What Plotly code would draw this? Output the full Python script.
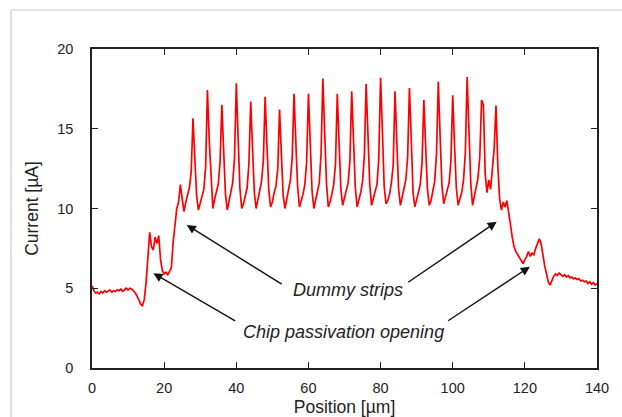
import numpy as np
import plotly.graph_objects as go

# ---------------- data ----------------
# sample positions: uniform 0.5 um grid from 0 to 140 um
X_START, X_STOP, X_STEP = 0.0, 140.0, 0.5

# 0 .. 12.5 um : flat baseline left of the chip
baseline_left = [5.15, 4.85, 4.70, 4.75, 4.65, 4.80, 4.70, 4.85, 4.75, 4.80,
                 4.90, 4.75, 4.85, 4.80, 4.90, 4.85, 4.95, 4.80, 4.90, 5.00,
                 4.90, 5.00, 4.95, 4.85, 4.70, 4.50]

# 13 .. 27.5 um : left chip passivation opening
passivation_left = [4.25, 4.00, 3.90, 4.30, 5.40, 7.00, 8.50, 7.60, 7.40, 8.20,
                    7.80, 8.30, 6.80, 6.10, 5.90, 6.00, 5.85, 6.05, 6.30, 7.90,
                    9.00, 10.0, 10.4, 11.5, 10.6, 9.80, 10.4, 10.9, 11.3, 12.3]

# 28 .. 111.5 um : one list per 4 um strip period (peak first)
strip_periods = [
    [15.65, 13.2, 10.8, 9.9, 10.4, 10.8, 11.2, 12.6],
    [17.43, 14.3, 11.6, 10.0, 10.6, 11.0, 11.5, 12.9],
    [16.50, 13.6, 10.9, 9.9, 10.5, 10.9, 11.6, 13.1],
    [17.85, 14.5, 11.3, 10.0, 10.3, 10.8, 11.3, 12.8],
    [16.70, 13.8, 11.0, 10.0, 10.6, 11.1, 11.7, 13.0],
    [17.00, 14.0, 11.2, 10.1, 10.4, 11.0, 11.4, 12.5],
    [16.20, 13.4, 10.8, 10.0, 10.7, 11.2, 11.8, 13.2],
    [17.20, 14.2, 11.4, 10.1, 10.5, 10.9, 11.5, 12.9],
    [17.20, 14.0, 11.1, 10.0, 10.6, 11.1, 11.6, 13.4],
    [18.15, 14.8, 11.6, 10.1, 10.4, 10.9, 11.5, 12.8],
    [17.20, 14.1, 11.2, 10.2, 10.7, 11.2, 11.6, 13.0],
    [17.35, 14.3, 11.3, 10.1, 10.5, 11.0, 11.7, 13.3],
    [17.80, 14.6, 11.5, 10.2, 10.6, 11.1, 11.5, 13.1],
    [18.20, 14.9, 11.4, 10.3, 10.5, 10.9, 11.6, 12.7],
    [17.35, 14.2, 11.2, 10.2, 10.7, 11.3, 11.8, 13.2],
    [17.55, 14.4, 11.0, 10.1, 10.6, 11.0, 11.5, 12.9],
    [16.80, 13.9, 11.2, 10.2, 10.5, 11.1, 11.7, 13.4],
    [17.95, 14.6, 11.5, 10.3, 10.8, 11.2, 11.6, 13.0],
    [17.10, 14.0, 11.3, 10.2, 10.6, 11.0, 11.8, 13.5],
    [18.25, 14.9, 11.6, 10.2, 10.7, 11.4, 11.9, 13.2],
    [16.80, 16.5, 12.2, 11.0, 11.8, 11.2, 12.4, 13.8],
]
# 112 .. 112.5 um : last strip peak
strip_last = [16.45, 12.7]

# 113 .. 127.5 um : right chip passivation opening
passivation_right = [10.6, 9.9, 10.4, 10.1, 10.5, 9.6, 9.0, 8.2, 7.6, 7.3,
                     7.1, 6.9, 6.7, 6.55, 6.8, 7.0, 7.3, 7.0, 7.2, 7.1,
                     7.5, 7.8, 8.1, 7.8, 7.0, 6.4, 5.9, 5.4, 5.2, 5.5]

# 128 .. 140 um : flat baseline right of the chip
baseline_right = [5.75, 5.90, 5.80, 5.95, 5.85, 5.75, 5.85, 5.70, 5.80, 5.65,
                  5.70, 5.60, 5.65, 5.55, 5.60, 5.45, 5.50, 5.40, 5.45, 5.30,
                  5.40, 5.25, 5.35, 5.20, 5.30]

x_ticks = [0, 20, 40, 60, 80, 100, 120, 140]
y_ticks = [0, 5, 10, 15, 20]

# annotation texts and the (data) points they refer to
dummy_label = "Dummy strips"
dummy_label_pos = (71.0, 4.89)
dummy_arrows = [((53.0, 5.20), (26.25, 8.97)), ((87.25, 5.31), (112.2, 9.17))]
chip_label = "Chip passivation opening"
chip_label_pos = (69.6, 2.28)
chip_arrows = [((40.1, 2.90), (17.0, 5.94)), ((98.3, 2.90), (121.4, 6.35))]

# ---------------- build ----------------
current = (baseline_left + passivation_left
           + [v for period in strip_periods for v in period]
           + strip_last + passivation_right + baseline_right)
position = np.arange(X_START, X_STOP + X_STEP / 2, X_STEP)[:len(current)]

fig = go.Figure()
fig.add_trace(go.Scatter(x=position, y=current, mode="lines",
                         line=dict(color="#ff0000", width=1.7),
                         showlegend=False, hoverinfo="skip"))

FONT = "Liberation Sans, Arial, sans-serif"
annotations = []
for (tail, head) in dummy_arrows + chip_arrows:
    annotations.append(dict(x=head[0], y=head[1], ax=tail[0], ay=tail[1],
                            xref="x", yref="y", axref="x", ayref="y",
                            text="", showarrow=True, arrowhead=2, arrowsize=1.3,
                            arrowwidth=1.4, arrowcolor="#111111", standoff=0))
for lbl, pos in [(dummy_label, dummy_label_pos), (chip_label, chip_label_pos)]:
    annotations.append(dict(x=pos[0], y=pos[1], xref="x", yref="y",
                            text="<i>" + lbl + "</i>", showarrow=False,
                            font=dict(family=FONT, size=18, color="#222222"),
                            bgcolor="rgba(0,0,0,0)"))

axis_common = dict(showline=True, linecolor="#222222", linewidth=1.6,
                   mirror="allticks", ticks="inside", ticklen=6, tickwidth=1.3,
                   tickcolor="#222222", showgrid=False, zeroline=False,
                   tickfont=dict(family=FONT, size=14.5, color="#222222"))

frame_line = dict(color="#c8c8c8", width=1.2)
fig.update_layout(
    width=622, height=417,
    margin=dict(l=92, r=25, t=49, b=49, autoexpand=False),
    paper_bgcolor="white", plot_bgcolor="white",
    xaxis=dict(range=[0, 140], tickvals=x_ticks, ticklabelstandoff=6,
               title=dict(text="Position [µm]", standoff=8,
                          font=dict(family=FONT, size=17.5, color="#222222")),
               **axis_common),
    yaxis=dict(range=[0, 20], tickvals=y_ticks, ticklabelstandoff=14,
               title=dict(text="Current [µA]", standoff=14,
                          font=dict(family=FONT, size=17.5, color="#222222")),
               **axis_common),
    annotations=annotations,
    shapes=[
        dict(type="line", xref="paper", yref="paper",
             x0=-0.1604, x1=-0.1604, y0=-0.2, y1=1.1223, line=frame_line),
        dict(type="line", xref="paper", yref="paper",
             x0=-0.1604, x1=1.06, y0=1.1223, y1=1.1223, line=frame_line),
    ],
)

fig.write_html("out.html",
               config={"displayModeBar": False},
               default_width="622px", default_height="417px",
               post_script="document.body.style.margin='0px';"
                           "document.body.style.overflow='hidden';"
                           "document.documentElement.style.overflow='hidden';"
                           "document.documentElement.style.background='white';")
